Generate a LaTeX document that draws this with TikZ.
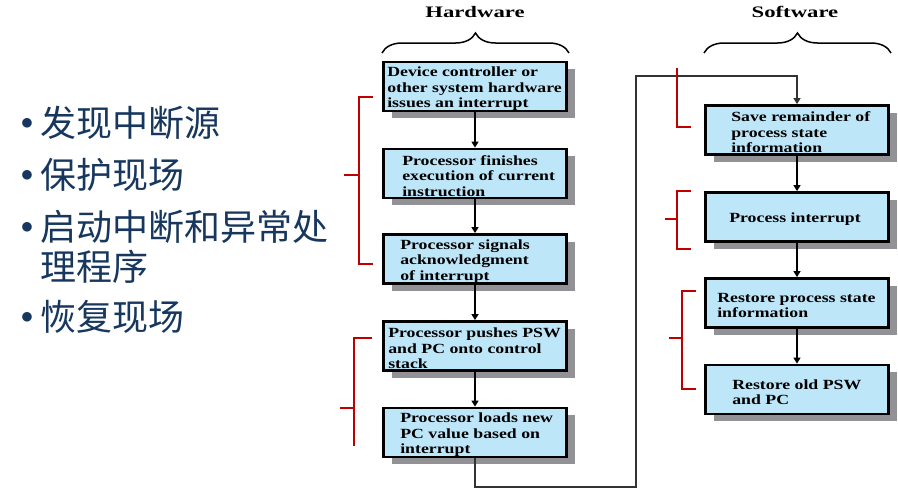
\documentclass[tikz,border=0pt]{standalone}
\usepackage{fontspec}
\setmainfont{Liberation Serif}
\newfontfamily\cjkfont{Noto Sans CJK SC}
\newfontfamily\boxfont[FakeStretch=1.27]{Liberation Serif}
\newfontfamily\headfont[FakeStretch=1.42]{Liberation Serif}
\usetikzlibrary{shadows,decorations.pathreplacing,arrows.meta}
\definecolor{boxblue}{RGB}{189,230,248}
\definecolor{shade}{RGB}{145,145,150}
\definecolor{brk}{RGB}{192,0,0}
\definecolor{navy}{RGB}{23,55,94}
\begin{document}
\begin{tikzpicture}[x=1pt,y=-1pt,
  stepbox/.style={draw=black,line width=2.8pt,fill=boxblue,minimum width=183pt,minimum height=49pt,inner sep=0pt,
    drop shadow={fill=shade,opacity=1,shadow xshift=8pt,shadow yshift=-7pt}},
  boxtext/.style={anchor=west,inner sep=0pt,align=left,font=\boxfont\bfseries\fontsize{14}{15.5}\selectfont},
  flow/.style={line width=1.3pt,-{Triangle[width=7pt,length=6pt]}},
  backflow/.style={line width=1.2pt,draw=black!80,-{Triangle[width=7pt,length=6pt]}},
  brack/.style={draw=brk,line width=2.6pt},
  hbrace/.style={decorate,decoration={brace,amplitude=20pt},line width=1.5pt},
  head/.style={anchor=base,inner sep=0pt,font=\headfont\bfseries\fontsize{16}{16}\selectfont},
  cjk/.style={anchor=base west,inner sep=0pt,text=navy,font=\cjkfont\fontsize{36}{40}\selectfont},
  dot/.style={anchor=base,inner sep=0pt,text=navy,font=\fontsize{24}{24}\selectfont}]
\useasboundingbox (0,0) rectangle (898,491);

% left bullet list
\node[dot] (d1) at (27,129) {$\bullet$};
\node[cjk] (t1) at (40,136) {发现中断源};
\node[dot] (d2) at (27,181) {$\bullet$};
\node[cjk] (t2) at (40,188) {保护现场};
\node[dot] (d3) at (27,233) {$\bullet$};
\node[cjk] (t3) at (40,240.5) {启动中断和异常处};
\node[cjk] (t4) at (40,280.5) {理程序};
\node[dot] (d5) at (27,323) {$\bullet$};
\node[cjk] (t5) at (40,330) {恢复现场};

% headers and braces
\node[head] (hw) at (475,17) {Hardware};
\node[head] (sw) at (795,17) {Software};
\coordinate (hbl) at (382,53); \coordinate (hbr) at (569,53);
\coordinate (sbl) at (704,53); \coordinate (sbr) at (891,53);
\draw[hbrace] (hbl) -- (hbr);
\draw[hbrace] (sbl) -- (sbr);

% boxes
\node[stepbox] (b1) at (475,86.5) {};
\node[stepbox] (b2) at (475,173.5) {};
\node[stepbox] (b3) at (475,259) {};
\node[stepbox] (b4) at (475,346) {};
\node[stepbox] (b5) at (475,432.5) {};
\node[stepbox] (b6) at (797,130) {};
\node[stepbox] (b7) at (797,217) {};
\node[stepbox] (b8) at (797,303) {};
\node[stepbox] (b9) at (797,389.5) {};

\node[boxtext] at ([xshift=5pt,yshift=-2.5pt]b1.west) {Device controller or\\other system hardware\\issues an interrupt};
\node[boxtext] at ([xshift=20pt,yshift=-2.5pt]b2.west) {Processor finishes\\execution of current\\instruction};
\node[boxtext] at ([xshift=18pt,yshift=-2.5pt]b3.west) {Processor signals\\acknowledgment\\of interrupt};
\node[boxtext] at ([xshift=6pt,yshift=-2.5pt]b4.west) {Processor pushes PSW\\and PC onto control\\stack};
\node[boxtext] at ([xshift=18pt,yshift=-2.5pt]b5.west) {Processor loads new\\PC value based on\\interrupt};
\node[boxtext] at ([xshift=27pt,yshift=-2.5pt]b6.west) {Save remainder of\\process state\\information};
\node[boxtext] at ([xshift=25pt,yshift=-2.5pt]b7.west) {Process interrupt};
\node[boxtext] at ([xshift=13pt,yshift=-2.5pt]b8.west) {Restore process state\\information};
\node[boxtext] at ([xshift=28pt,yshift=-2.5pt]b9.west) {Restore old PSW\\and PC};

% connectors
\draw[flow] (b1) -- (b2);
\draw[flow] (b2) -- (b3);
\draw[flow] (b3) -- (b4);
\draw[flow] (b4) -- (b5);
\draw[flow] (b6) -- (b7);
\draw[flow] (b7) -- (b8);
\draw[flow] (b8) -- (b9);
\coordinate (k1) at (636,487);
\coordinate (k2) at (636,76);
\draw[backflow] (b5.south) |- (k1) -- (k2) -| (b6.north);

% red brackets
\draw[brack] (373,97) -- (359,97) -- (359,264) -- (373,264);
\draw[brack] (344,175) -- (359,175);
\draw[brack] (372,338) -- (354,338) -- (354,446);
\draw[brack] (340,408) -- (354,408);
\draw[brack] (677,68) -- (677,127) -- (691,127);
\draw[brack] (691,191) -- (677,191) -- (677,249) -- (691,249);
\draw[brack] (665,219) -- (677,219);
\draw[brack] (696,291) -- (682,291) -- (682,389) -- (696,389);
\draw[brack] (669,338) -- (682,338);
\end{tikzpicture}
\end{document}
